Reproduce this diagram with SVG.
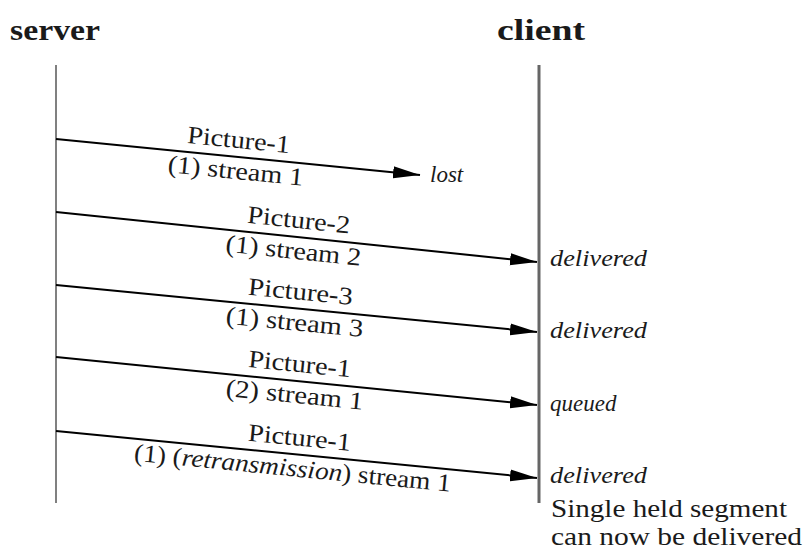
<svg xmlns="http://www.w3.org/2000/svg" width="806" height="555" viewBox="0 0 806 555" font-family="'Liberation Serif', 'Times New Roman', serif">
<defs>
<style>
text{font-family:'Liberation Serif','Times New Roman',serif;fill:#1a1a1a}
.hdr{font-size:30px;font-weight:bold}
.lbl{font-size:25px;text-anchor:middle}
.it{font-style:italic}
.state{font-size:23px;font-style:italic}
.note{font-size:25px}
.msg{stroke:#000;stroke-width:2;fill:none}
</style>
<marker id="ah" markerUnits="userSpaceOnUse" markerWidth="28" markerHeight="14" refX="27" refY="7" orient="auto">
<path d="M0,1 L27,7 L0,13 Z" fill="#000"/>
</marker>
</defs>
<g id="server">
<text class="hdr" x="10" y="40" textLength="90" lengthAdjust="spacingAndGlyphs">server</text>
<line x1="56" y1="65" x2="56" y2="503" stroke="#808080" stroke-width="2"/>
</g>
<g id="client">
<text class="hdr" x="497" y="40" textLength="88" lengthAdjust="spacingAndGlyphs">client</text>
<line x1="539" y1="65" x2="539" y2="503" stroke="#666" stroke-width="3"/>
</g>
<g id="connectors">
<line class="msg" x1="56" y1="139" x2="420" y2="175" marker-end="url(#ah)"/>
<line class="msg" x1="56" y1="212" x2="537" y2="262" marker-end="url(#ah)"/>
<line class="msg" x1="56" y1="285" x2="537" y2="332" marker-end="url(#ah)"/>
<line class="msg" x1="56" y1="357" x2="537" y2="405" marker-end="url(#ah)"/>
<line class="msg" x1="56" y1="431" x2="537" y2="478" marker-end="url(#ah)"/>
</g>
<g id="msg1" transform="translate(237,157) rotate(5.65)">
<text class="lbl" x="0" y="-9" textLength="103" lengthAdjust="spacingAndGlyphs">Picture-1</text>
<text class="lbl" x="0" y="22" textLength="136" lengthAdjust="spacingAndGlyphs">(1) stream 1</text>
</g>
<g id="msg2" transform="translate(297,237) rotate(5.93)">
<text class="lbl" x="0" y="-9" textLength="103" lengthAdjust="spacingAndGlyphs">Picture-2</text>
<text class="lbl" x="-2" y="22" textLength="136" lengthAdjust="spacingAndGlyphs">(1) stream 2</text>
</g>
<g id="msg3" transform="translate(298,308.6) rotate(5.58)">
<text class="lbl" x="1" y="-9" textLength="105" lengthAdjust="spacingAndGlyphs">Picture-3</text>
<text class="lbl" x="-2" y="22" textLength="138" lengthAdjust="spacingAndGlyphs">(1) stream 3</text>
</g>
<g id="msg4" transform="translate(297,381) rotate(5.7)">
<text class="lbl" x="1" y="-9" textLength="103" lengthAdjust="spacingAndGlyphs">Picture-1</text>
<text class="lbl" x="-1" y="22" textLength="138" lengthAdjust="spacingAndGlyphs">(2) stream 1</text>
</g>
<g id="msg5" transform="translate(296,454.5) rotate(5.58)">
<text class="lbl" x="2" y="-9" textLength="103" lengthAdjust="spacingAndGlyphs">Picture-1</text>
<text class="lbl" x="-2" y="22" textLength="318" lengthAdjust="spacingAndGlyphs">(1) (<tspan class="it">retransmission</tspan>) stream 1</text>
</g>
<g id="states">
<text class="state" x="430" y="182">lost</text>
<text class="state" x="550" y="266" textLength="97" lengthAdjust="spacingAndGlyphs">delivered</text>
<text class="state" x="550" y="338" textLength="97" lengthAdjust="spacingAndGlyphs">delivered</text>
<text class="state" x="550" y="411">queued</text>
<text class="state" x="550" y="483" textLength="97" lengthAdjust="spacingAndGlyphs">delivered</text>
<text class="note" x="551" y="517" textLength="236" lengthAdjust="spacingAndGlyphs">Single held segment</text>
<text class="note" x="551" y="545" textLength="251" lengthAdjust="spacingAndGlyphs">can now be delivered</text>
</g>
</svg>
